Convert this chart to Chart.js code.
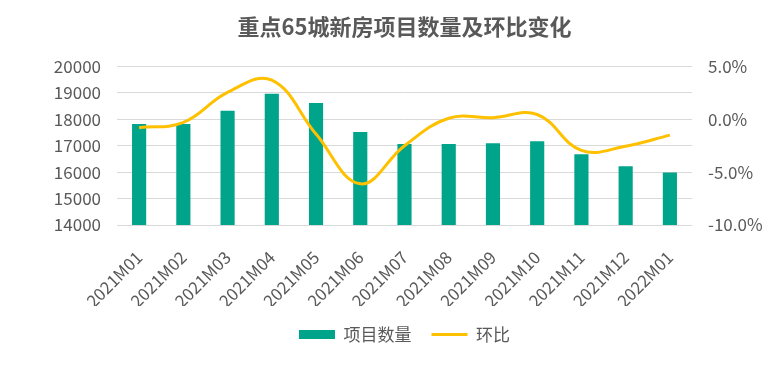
<!DOCTYPE html>
<html>
<head>
<meta charset="utf-8">
<script src="https://cdn.jsdelivr.net/npm/chart.js@4"></script>
<style>
  html, body { margin: 0; padding: 0; background: #fff; }
  #wrap { width: 779px; height: 373px; }
</style>
</head>
<body>
<div id="wrap"><canvas id="chart"></canvas></div>
<script>
const months = ['2021M01','2021M02','2021M03','2021M04','2021M05','2021M06','2021M07',
                '2021M08','2021M09','2021M10','2021M11','2021M12','2022M01'];
const projectCount = [17820, 17820, 18320, 18970, 18620, 17520, 17060,
                      17060, 17090, 17170, 16680, 16220, 15990];
const momChange = [-0.8, -0.3, 2.55, 3.7, -1.4, -6.1, -2.5,
                   0.1, 0.15, 0.45, -2.95, -2.55, -1.5];
const leftTicks = [14000, 15000, 16000, 17000, 18000, 19000, 20000];

const fontFamily = '"Noto Sans CJK SC", "Noto Sans", sans-serif';
const grey = '#595959';

const ctx = document.getElementById('chart');
new Chart(ctx, {
    type: 'bar',
    data: {
        labels: months,
        datasets: [{
            type: 'line',
            label: '环比',
            data: momChange,
            yAxisID: 'y2',
            borderColor: '#ffc000',
            backgroundColor: '#ffc000',
            borderWidth: 3,
            pointRadius: 0,
            pointStyle: 'line',
            tension: 0.4,
            order: 0
        }, {
            label: '项目数量',
            data: projectCount,
            yAxisID: 'y',
            backgroundColor: '#00a48a',
            pointStyle: 'rect',
            categoryPercentage: 1,
            barPercentage: 0.32,
            order: 1
        }]
    },
    options: {
        responsive: true,
        maintainAspectRatio: false,
        animation: false,
        layout: { padding: { top: 0, bottom: 20, left: 0, right: 0 } },
        plugins: {
            title: {
                display: true,
                fullSize: false,
                text: '重点65城新房项目数量及环比变化',
                color: grey,
                font: { family: fontFamily, size: 22, weight: 'bold' },
                padding: { top: 13, bottom: 27 }
            },
            legend: {
                position: 'bottom',
                fullSize: false,
                reverse: true,
                labels: {
                    usePointStyle: true,
                    pointStyleWidth: 36,
                    boxHeight: 9,
                    padding: 20,
                    color: grey,
                    font: { family: fontFamily, size: 17 }
                }
            },
            tooltip: { enabled: false }
        },
        scales: {
            x: {
                grid: { display: false },
                border: { display: false },
                afterFit: (axis) => { axis.height = 81; },
                ticks: {
                    color: grey,
                    font: { family: fontFamily, size: 17 },
                    minRotation: 45,
                    maxRotation: 45,
                    padding: 14
                }
            },
            y: {
                position: 'left',
                min: 14000,
                max: 20000,
                afterBuildTicks: (axis) => { axis.ticks = leftTicks.map(v => ({ value: v })); },
                afterFit: (axis) => { axis.width = 117; },
                grid: { color: '#d9d9d9', lineWidth: 1, drawTicks: false },
                border: { display: false },
                ticks: {
                    color: grey,
                    font: { family: fontFamily, size: 17 },
                    padding: 16,
                    callback: (v) => String(v)
                }
            },
            y2: {
                position: 'right',
                min: -10,
                max: 5,
                afterFit: (axis) => { axis.width = 87; },
                grid: { display: false, drawTicks: false },
                border: { display: false },
                ticks: {
                    stepSize: 5,
                    color: grey,
                    font: { family: fontFamily, size: 17 },
                    padding: 16,
                    callback: (v) => v.toFixed(1) + '%'
                }
            }
        }
    }
});
</script>
</body>
</html>
